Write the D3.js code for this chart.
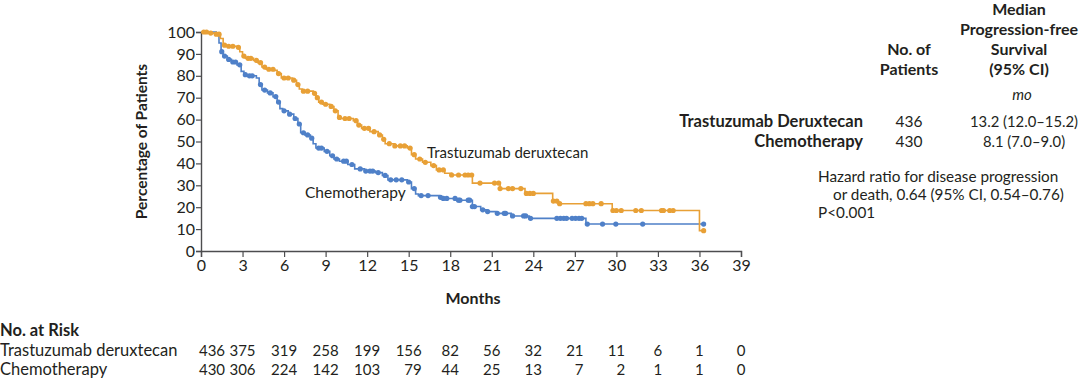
<!DOCTYPE html>
<html>
<head>
<meta charset="utf-8">
<script src="https://cdn.jsdelivr.net/npm/d3@7"></script>
<style>
  body { margin: 0; background: #fff; }
  svg text { font-family: Lato, "Open Sans", sans-serif; fill: #231f20; }
</style>
</head>
<body>
<div id="km"></div>
<script>
// Données
var months = [0, 3, 6, 9, 12, 15, 18, 21, 24, 27, 30, 33, 36, 39];
var yTicks = [0, 10, 20, 30, 40, 50, 60, 70, 80, 90, 100];

// courbe Trastuzumab deruxtecan : [mois, % sans progression]
var tdxdSteps = [[0, 100], [0.6, 99.5], [1.0, 99], [1.4, 97], [1.6, 94], [1.8, 93.5], [2.6, 93], [2.8, 91],
    [3.0, 89], [3.2, 88], [3.8, 87], [4.1, 86], [4.4, 84], [4.7, 83], [5.3, 82.5], [5.5, 81], [5.8, 79],
    [6.6, 78], [6.9, 76], [7.1, 74], [7.3, 73], [8.1, 72], [8.3, 70], [8.5, 68], [8.8, 67], [9.3, 66],
    [9.6, 64], [9.9, 61], [10.1, 60.5], [11.0, 59.5], [11.3, 57.5], [11.6, 56], [12.2, 54.5], [12.8, 53],
    [13.1, 51], [13.3, 49], [14.0, 48], [14.9, 47], [15.2, 44], [15.5, 42], [16.0, 40.5], [16.6, 39],
    [17.0, 37], [17.6, 35.5], [18.1, 34.7], [19.6, 31], [21.6, 28.5], [23.4, 26.3], [25.4, 22.8],
    [25.8, 21.6], [29.7, 18.5], [36.0, 9.3]];
var tdxdCensor = [0.2, 0.4, 0.7, 1.1, 1.3, 1.7, 2.0, 2.3, 2.7, 3.1, 3.4, 3.6, 4.0, 4.3, 4.6, 4.9, 5.2, 5.6,
    6.0, 6.3, 6.7, 7.0, 7.4, 7.7, 8.2, 8.4, 8.7, 9.0, 9.4, 9.7, 10.0, 10.4, 10.7, 11.2, 11.4, 11.8, 12.1,
    12.5, 12.9, 13.2, 13.6, 14.0, 14.4, 14.7, 15.1, 15.4, 15.8, 16.2, 16.8, 17.2, 17.5, 18.1, 18.6, 19.07,
    19.3, 19.55, 20.15, 21.2, 21.5, 21.6, 22.2, 22.5, 23.1, 23.5, 23.75, 24.0, 25.45, 25.7, 25.9, 27.8,
    28.05, 28.3, 28.9, 29.75, 30.0, 30.35, 31.4, 31.8, 33.26, 33.4, 33.85, 34.1, 36.3];

// courbe Chimiothérapie
var chemoSteps = [[0, 100], [1.1, 99], [1.3, 95], [1.45, 91], [1.6, 89], [1.9, 87.5], [2.2, 86.3], [2.6, 85],
    [2.9, 82], [3.1, 80.5], [3.3, 80], [4.0, 79], [4.2, 76], [4.4, 73.5], [4.8, 72.2], [5.2, 70.5], [5.5, 68],
    [5.7, 65], [5.9, 64], [6.3, 62.5], [6.7, 60.5], [7.0, 58], [7.2, 54], [7.5, 53], [7.9, 51.5], [8.1, 49],
    [8.3, 47], [8.9, 45.5], [9.3, 43.5], [9.6, 42], [10.0, 41], [10.6, 39.5], [11.1, 37.5], [11.8, 36.5],
    [12.6, 35.8], [13.1, 34.5], [13.5, 32.5], [14.9, 31.5], [15.2, 28.5], [15.5, 26], [15.7, 25.3],
    [17.2, 24.5], [17.5, 24], [18.4, 23.2], [19.6, 20.3], [20.2, 18.8], [20.7, 18], [21.3, 17.2],
    [22.4, 16], [23.7, 14.9], [27.8, 12.3]];
var chemoCensor = [1.5, 1.7, 2.0, 2.3, 2.5, 2.8, 3.2, 3.5, 3.7, 4.3, 4.6, 5.0, 5.4, 5.6, 6.0, 6.4, 6.8, 7.1,
    7.4, 7.7, 8.0, 8.5, 8.7, 9.1, 9.5, 9.8, 10.3, 10.5, 10.9, 11.5, 11.9, 12.2, 12.4, 12.8, 13.3, 13.7,
    14.1, 14.5, 15.0, 15.4, 15.9, 16.4, 17.3, 17.5, 17.75, 18.35, 18.6, 18.7, 19.3, 19.4, 19.6, 19.75,
    20.35, 20.7, 21.4, 21.9, 22.0, 22.5, 23.3, 23.45, 23.8, 25.7, 25.96, 26.2, 26.4, 26.8, 27.05, 27.3,
    27.5, 27.9, 29.0, 29.96, 31.9, 36.3];

// No. at risk
var riskLabels = ["Trastuzumab deruxtecan", "Chemotherapy"];
var tdxdRisk = [436, 375, 319, 258, 199, 156, 82, 56, 32, 21, 11, 6, 1, 0];
var chemoRisk = [430, 306, 224, 142, 103, 79, 44, 25, 13, 7, 2, 1, 1, 0];

// tableau de droite
var groupNames = ["Trastuzumab Deruxtecan", "Chemotherapy"];
var groupN = ["436", "430"];
var groupMedian = ["13.2 (12.0\u201315.2)", "8.1 (7.0\u20139.0)"];
var hazardLines = ["Hazard ratio for disease progression", "or death, 0.64 (95% CI, 0.54\u20130.76)", "P<0.001"];

var orange = "#e8a036", blue = "#4f80c8", axisColor = "#4d4d4f";

var width = 1080, height = 379;

let svg = d3.select("#km")
    .append("svg")
    .attr("width", width)
    .attr("height", height);

var x = d3.scaleLinear().domain([0, 39]).range([201, 741]);
var y = d3.scaleLinear().domain([0, 100]).range([251, 32]);

// Axe Y
var yAxis = svg.append("g")
    .attr("transform", "translate(" + x(0) + ",0)")
    .call(d3.axisLeft(y).tickValues(yTicks).tickSize(5).tickPadding(1));
// Axe X
var xAxis = svg.append("g")
    .attr("transform", "translate(0," + y(0) + ")")
    .call(d3.axisBottom(x).tickValues(months).tickSize(6).tickPadding(3));

[xAxis, yAxis].forEach(function (a) {
    a.select(".domain").attr("stroke", axisColor).attr("stroke-width", 1.4);
    a.selectAll(".tick line").attr("stroke", axisColor).attr("stroke-width", 1.2);
    a.selectAll(".tick text").attr("font-size", 16).attr("font-family", "Lato").attr("fill", "#231f20");
});

svg.append("text")
    .attr("transform", "translate(147," + y(50) + ") rotate(-90)")
    .attr("text-anchor", "middle")
    .attr("font-size", 15.5)
    .attr("font-weight", "bold")
    .text("Percentage of Patients");

svg.append("text")
    .attr("x", x(19.5) + 2)
    .attr("y", 304)
    .attr("text-anchor", "middle")
    .attr("font-size", 16)
    .attr("font-weight", "bold")
    .text("Months");

// Survie à un instant donné
function survAt(steps, t) {
    let s = steps[0][1];
    for (let i = 0; i < steps.length; i++) {
        if (steps[i][0] <= t) {
            s = steps[i][1];
        }
    }
    return s;
}

function drawCurve(steps, censor, color) {
    let last = censor[censor.length - 1];
    let pts = steps.slice();
    pts.push([last, survAt(steps, last)]);
    let line = d3.line()
        .x(function (d) { return x(d[0]); })
        .y(function (d) { return y(d[1]); })
        .curve(d3.curveStepAfter);
    svg.append("path")
        .datum(pts)
        .attr("d", line)
        .attr("fill", "none")
        .attr("stroke", color)
        .attr("stroke-width", 1.6);
    svg.append("g")
        .selectAll("circle")
        .data(censor)
        .enter()
        .append("circle")
        .attr("cx", function (d) { return x(d); })
        .attr("cy", function (d) { return y(survAt(steps, d)); })
        .attr("r", 2.6)
        .attr("fill", color);
}

drawCurve(chemoSteps, chemoCensor, blue);
drawCurve(tdxdSteps, tdxdCensor, orange);

// Etiquettes des courbes
svg.append("text").attr("x", 427).attr("y", 158).attr("font-size", 15).text("Trastuzumab deruxtecan");
svg.append("text").attr("x", 305).attr("y", 198).attr("font-size", 15.5).text("Chemotherapy");

// Tableau de droite
var colN = 909, colMed = 1019;
var header = svg.append("g").attr("font-size", 16).attr("font-weight", "bold").attr("text-anchor", "middle");
[["Median", 15], ["Progression-free", 35], ["Survival", 55], ["(95% CI)", 75]].forEach(function (h) {
    header.append("text").attr("x", colMed).attr("y", h[1]).text(h[0]);
});
[["No. of", 55], ["Patients", 75]].forEach(function (h) {
    header.append("text").attr("x", colN).attr("y", h[1]).text(h[0]);
});
svg.append("text").attr("x", colMed + 3).attr("y", 100).attr("text-anchor", "middle")
    .attr("font-size", 15).attr("font-style", "italic").text("mo");

for (let i = 0; i < groupNames.length; i++) {
    let yy = 127 + i * 20;
    svg.append("text").attr("x", 863).attr("y", yy).attr("text-anchor", "end")
        .attr("font-size", 16.5).attr("font-weight", "bold").text(groupNames[i]);
    svg.append("text").attr("x", colN).attr("y", yy).attr("text-anchor", "middle")
        .attr("font-size", 15.5).text(groupN[i]);
    svg.append("text").attr("x", 1024).attr("y", yy).attr("text-anchor", "middle")
        .attr("font-size", 14.8).text(groupMedian[i]);
}

[[818, 182], [833, 200], [818, 218]].forEach(function (p, i) {
    svg.append("text").attr("x", p[0]).attr("y", p[1]).attr("font-size", 15.3).text(hazardLines[i]);
});

// No. at Risk
svg.append("text").attr("x", 0).attr("y", 336).attr("font-size", 16.5).attr("font-weight", "bold").text("No. at Risk");
svg.append("text").attr("x", 0).attr("y", 356).attr("font-size", 16.5).text(riskLabels[0]);
svg.append("text").attr("x", 0).attr("y", 375).attr("font-size", 16.5).text(riskLabels[1]);

for (let i = 0; i < months.length; i++) {
    let cx = i === 0 ? x(0) + 11 : x(months[i]);
    let top = svg.append("text").attr("x", cx).attr("y", 356).attr("text-anchor", "middle")
        .attr("font-size", 15).text(tdxdRisk[i]);
    // alignement à droite de la 2e ligne sur la 1re
    let right = cx + top.node().getComputedTextLength() / 2;
    svg.append("text").attr("x", right).attr("y", 375).attr("text-anchor", "end")
        .attr("font-size", 15).text(chemoRisk[i]);
}
</script>
</body>
</html>
